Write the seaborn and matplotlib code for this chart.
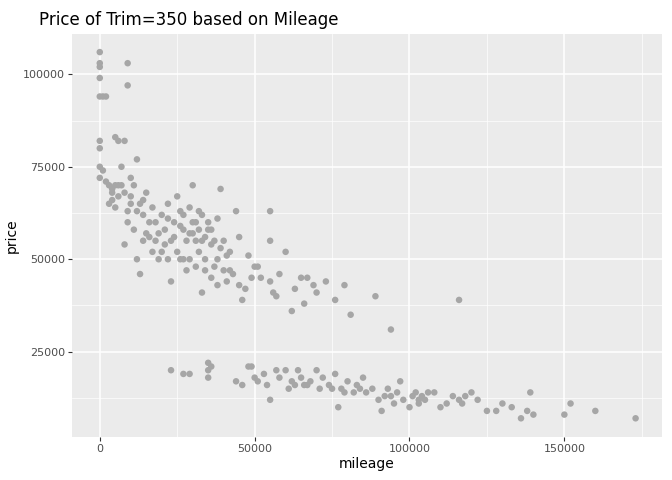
import matplotlib
matplotlib.use("Agg")
import matplotlib.pyplot as plt
import seaborn as sns
import pandas as pd
from matplotlib.ticker import MultipleLocator

# (mileage in thousands, price in thousands)
pts = [(0,106),(0,103),(0,102),(0,99),(0,94),(1,94),(2,94),(0,82),(0,80),(0,75),(0,72),(1,74),(9,103),(9,97),
(3,70),(4,68),(5,83),(6,82),(8,82),(7,75),(5,70),(6,70),(7,70),(8,68),(3,65),(4,66),(5,64),(10,72),(11,70),(12,77),
(10,67),(9,60),(8,54),(11,58),(12,63),(13,65),(14,62),(15,68),(16,60),(12,50),(13,46),(14,55),(15,57),(17,64),(18,55),
(18,60),(19,50),(20,62),(20,52),(21,58),(22,65),(22,50),(23,55),(23,44),(24,60),(25,67),(25,52),(26,50),(27,58),(27,62),
(28,55),(28,47),(29,64),(29,50),(30,70),(30,57),(31,60),(31,48),(32,52),(32,63),(33,41),(33,55),(34,50),(35,58),(35,60),
(36,54),(36,45),(37,55),(38,43),(38,50),(39,69),(40,47),(40,55),(41,44),(42,52),(43,46),(44,63),(45,56),(45,43),(46,39),
(48,51),(49,45),(50,48),(51,48),(55,63),(55,55),(55,44),(56,41),(57,40),(58,46),(60,52),(62,36),(63,42),(65,45),(66,38),
(67,45),(69,43),(70,41),(73,44),(76,39),(79,43),(81,35),(89,40),(94,31),(116,39),
(2,71),(4,69),(6,67),(9,63),(10,65),(14,66),(16,56),(17,52),(19,57),(21,54),(22,61),(24,56),(26,59),(26,63),(27,50),
(29,57),(30,60),(31,55),(32,58),(33,62),(34,56),(34,47),(36,58),(37,48),(38,61),(39,53),(41,51),(42,47),(47,42),(52,45),
(23,20),(27,19),(29,19),(35,22),(35,20),(35,18),(36,21),(44,17),(46,16),(48,21),(49,21),(50,18),(51,17),(53,19),(54,16),
(55,12),(57,20),(58,18),(60,20),(61,15),(62,17),(63,16),(64,20),(65,18),(66,16),(68,17),(70,20),(71,15),(72,18),(74,16),
(76,19),(77,10),(78,15),(80,17),(82,14),(83,16),(85,18),(86,14),(88,15),(90,12),(91,9),(92,13),(93,15),(95,11),(96,14),
(97,17),(98,12),(100,10),(101,13),(102,14),(103,11),(104,13),(105,12),(108,14),(110,10),(112,11),(114,13),(116,12),
(118,13),(120,14),(122,12),(125,9),(128,9),(130,11),(133,10),(136,7),(138,9),(139,14),(140,8),(150,8),(152,11),(160,9),(173,7),
(67,16),(75,15),(79,14),(84,15),(94,13),(103,12),(106,14),(117,11)]
mileage = [p[0]*1000 for p in pts]
price = [p[1]*1000 for p in pts]

df = pd.DataFrame({"mileage": mileage, "price": price})
fig, ax = plt.subplots(figsize=(6.72, 4.8), dpi=100)
fig.subplots_adjust(left=0.107, right=0.985, top=0.93, bottom=0.09)
ax.set_facecolor("#EBEBEB")
sns.scatterplot(data=df, x="mileage", y="price", ax=ax, color="#A6A6A6", s=22, edgecolor="none", zorder=3)
ax.set_xlim(-9000, 181500)
ax.set_ylim(2000, 111000)
ax.xaxis.set_major_locator(MultipleLocator(50000))
ax.xaxis.set_minor_locator(MultipleLocator(25000))
ax.yaxis.set_major_locator(MultipleLocator(25000))
ax.yaxis.set_minor_locator(MultipleLocator(12500))
ax.grid(which="major", color="white", lw=1.1, zorder=0)
ax.grid(which="minor", color="white", lw=0.5, zorder=0)
ax.set_axisbelow(True)
for s in ax.spines.values():
    s.set_visible(False)
ax.tick_params(which="major", length=3, color="#333333", labelcolor="#4D4D4D", labelsize=8, pad=2)
ax.tick_params(which="minor", length=0)
ax.set_xlabel("mileage", fontsize=10, labelpad=2)
ax.set_ylabel("price", fontsize=10, labelpad=3)
ax.set_title("Price of Trim=350 based on Mileage", loc="left", fontsize=12, x=-0.055)
fig.savefig("out.png")
